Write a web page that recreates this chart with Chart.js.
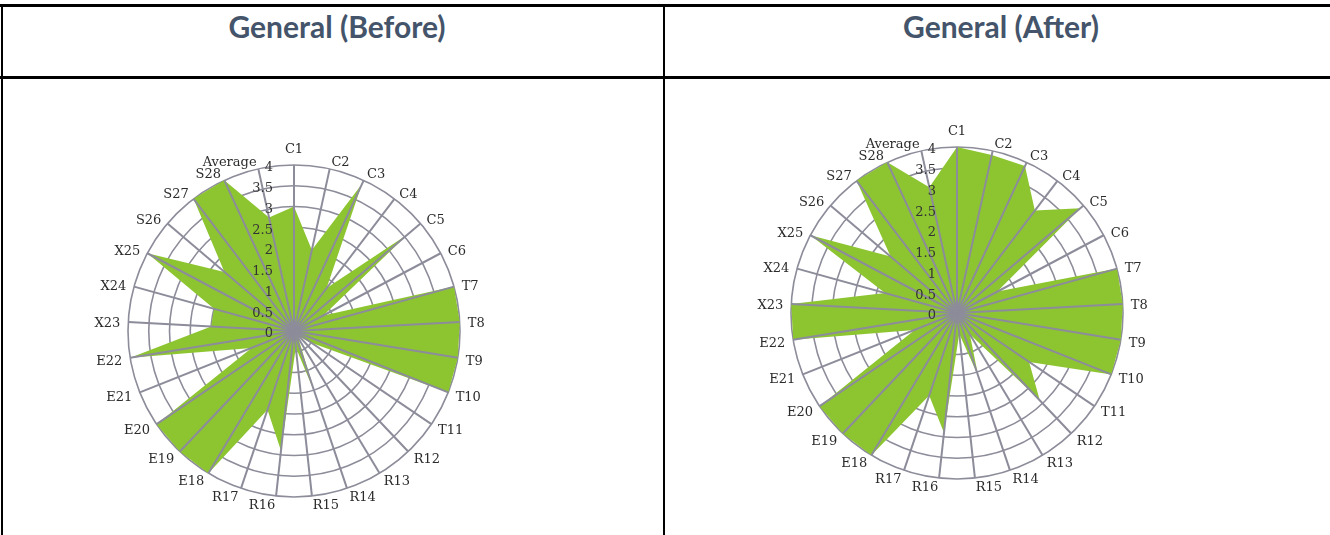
<!DOCTYPE html>
<html>
<head>
<meta charset="utf-8">
<script src="https://cdn.jsdelivr.net/npm/chart.js@4/dist/chart.umd.min.js"></script>
<style>
  html, body { margin: 0; padding: 0; background: #fff; }
  body { width: 1330px; height: 535px; position: relative; overflow: hidden; }
  .hline { position: absolute; left: 0; width: 1330px; height: 3px; background: #000; }
  .vline { position: absolute; top: 4px; width: 2px; height: 531px; background: #000; }
  .title {
    position: absolute; top: 8px; width: 400px; margin-left: -200px; text-align: center;
    font-family: Lato, "Open Sans", sans-serif; font-weight: bold; font-size: 30px;
    line-height: 36px; color: #44546a;
  }
  canvas { position: absolute; }
</style>
</head>
<body>
<div class="hline" style="top:4px"></div>
<div class="hline" style="top:76px"></div>
<div class="vline" style="left:1px"></div>
<div class="vline" style="left:663px"></div>
<div class="title" style="left:337px">General (Before)</div>
<div class="title" style="left:1001px">General (After)</div>
<canvas id="before" width="440" height="440" style="left:74px;top:111px"></canvas>
<canvas id="after" width="440" height="440" style="left:737px;top:93px"></canvas>
<script>
const axisLabels = [
  "C1", "C2", "C3", "C4", "C5", "C6",
  "T7", "T8", "T9", "T10", "T11",
  "R12", "R13", "R14", "R15", "R16", "R17",
  "E18", "E19", "E20", "E21", "E22",
  "X23", "X24", "X25",
  "S26", "S27", "S28", "Average",
];

const beforeValues = [
  3, 2, 3.9, 1.3, 3.6, 0.8,
  4, 4, 4, 4, 0.5,
  0.2, 0.2, 1.6, 0.4, 2.9, 2,
  4, 4, 4, 1.1, 4,
  2, 2, 4,
  2.2, 4, 4, 2.8,
];

const afterValues = [
  4, 3.9, 3.9, 3.1, 3.9, 1.1,
  4, 4, 4, 4, 2.1,
  2.9, 0.6, 1.6, 0.5, 2.9, 2.1,
  4, 4, 4, 1.1, 4,
  4, 1.8, 4,
  2.1, 4, 4, 3.1,
];

const tickValues = [0, 0.5, 1, 1.5, 2, 2.5, 3, 3.5, 4];

const gridColor = "#8c8c9a";
const fillColor = "#8dc531";
const labelFont = '13px "DejaVu Serif", "Liberation Serif", serif';

// spokes go over the fill, rings stay under it, so the spokes and labels are drawn here
const overlayPlugin = {
  id: "overlay",
  afterDatasetsDraw(chart) {
    const scale = chart.scales.r;
    const ctx = chart.ctx;
    const r = scale.drawingArea;
    ctx.save();

    ctx.strokeStyle = gridColor;
    ctx.lineWidth = 2;
    axisLabels.forEach((_, i) => {
      const p = scale.getPointPosition(i, r);
      ctx.beginPath();
      ctx.moveTo(scale.xCenter, scale.yCenter);
      ctx.lineTo(p.x, p.y);
      ctx.stroke();
    });

    ctx.font = labelFont;
    ctx.fillStyle = "#2b2b2b";
    ctx.textBaseline = "middle";
    axisLabels.forEach((label, i) => {
      const theta = scale.getIndexAngle(i);
      const s = Math.sin(theta);
      const c = Math.cos(theta);
      const p = scale.getPointPosition(i, r + 8);
      if (Math.abs(s) < 0.05) {
        ctx.textAlign = "center";
        ctx.fillText(label, p.x, p.y - c * 7);
      } else {
        ctx.textAlign = s > 0 ? "left" : "right";
        ctx.fillText(label, p.x, p.y + 2);
      }
    });

    ctx.textAlign = "right";
    ctx.fillStyle = "#333";
    tickValues.forEach((v) => {
      const d = scale.getDistanceFromCenterForValue(v);
      ctx.fillText(String(v), scale.xCenter - 21, scale.yCenter - d + 3);
    });
    ctx.restore();
  },
};

function makeRadar(id, values) {
  return new Chart(document.getElementById(id), {
    type: "radar",
    data: {
      labels: axisLabels,
      datasets: [
        {
          data: values,
          backgroundColor: fillColor,
          borderWidth: 0,
          pointRadius: 0,
          fill: true,
        },
      ],
    },
    options: {
      responsive: false,
      animation: false,
      layout: { padding: 54 },
      plugins: { legend: { display: false }, tooltip: { enabled: false } },
      scales: {
        r: {
          min: 0,
          max: 4,
          ticks: { stepSize: 0.5, display: false },
          grid: { circular: true, color: gridColor, lineWidth: 1.6 },
          angleLines: { display: false },
          pointLabels: { display: false },
        },
      },
    },
    plugins: [overlayPlugin],
  });
}

makeRadar("before", beforeValues);
makeRadar("after", afterValues);
</script>
</body>
</html>
